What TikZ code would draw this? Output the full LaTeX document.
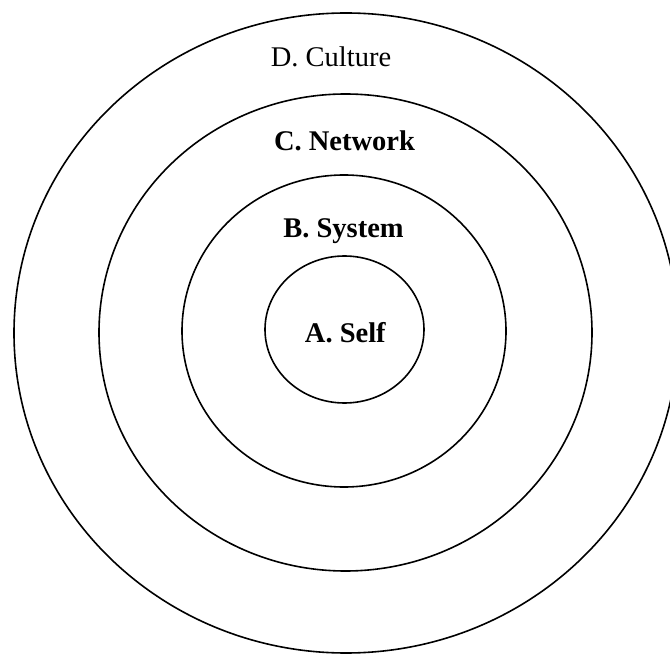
\documentclass[tikz,border=0pt]{standalone}
\usepackage{fontspec}
\setmainfont{Liberation Serif}
\usetikzlibrary{shapes.geometric}

\begin{document}
\begin{tikzpicture}[x=1pt, y=-1pt,
	ring/.style = {draw, ellipse, line width=1.6pt, inner sep=0pt},
	lbl/.style = {anchor=base, inner sep=0pt, font=\fontsize{28.5}{34}\selectfont}]
\useasboundingbox (0,0) rectangle (670,655);
\node (culture) [ring, minimum width=664pt, minimum height=640pt] at (346,333) {};
\node (network) [ring, minimum width=493pt, minimum height=477pt] at (345.5,332.5) {};
\node (system) [ring, minimum width=324pt, minimum height=312pt] at (344,331) {};
\node (self) [ring, minimum width=159pt, minimum height=147pt] at (344.5,329.5) {};
\node (culture-l) [lbl] at (331,67) {D. Culture};
\node (network-l) [lbl] at (344.5,150.5) {\textbf{C. Network}};
\node (system-l) [lbl] at (343.5,238) {\textbf{B. System}};
\node (self-l) [lbl] at (345.5,343) {\textbf{A. Self}};
\end{tikzpicture}
\end{document}
